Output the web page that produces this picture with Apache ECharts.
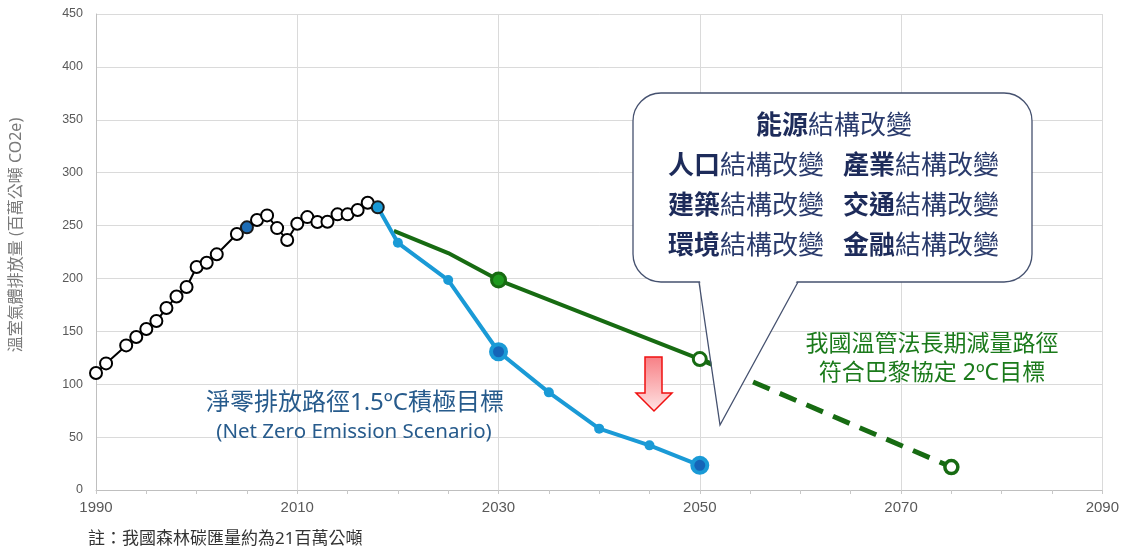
<!DOCTYPE html>
<html>
<head>
<meta charset="utf-8">
<script src="https://cdn.jsdelivr.net/npm/echarts@6/dist/echarts.min.js"></script>
<style>
  html, body { margin: 0; padding: 0; background: #fff; }
  #chart { width: 1122px; height: 551px; }
</style>
</head>
<body>
<div id="chart"></div>
<script>
// 歷史排放量 (百萬公噸 CO2e)
var histYears = [1990, 1991, 1993, 1994, 1995, 1996, 1997, 1998, 1999, 2000, 2001, 2002, 2004, 2005,
                 2006, 2007, 2008, 2009, 2010, 2011, 2012, 2013, 2014, 2015, 2016, 2017, 2018];
var histValues = [110.6, 119.7, 136.7, 144.6, 152.2, 159.7, 172, 183, 191.9, 210.8, 214.9, 222.8, 242, 248.3,
                  255.2, 259.6, 247.6, 236.3, 251.7, 258, 253.3, 253.6, 260.6, 260.6, 264.7, 271.6, 267.2];
// 淨零排放路徑
var netZeroYears = [2018, 2020, 2025, 2030, 2035, 2040, 2045, 2050];
var netZeroValues = [267.2, 233.7, 198.5, 130.7, 92.3, 58, 42.2, 23.3];
// 溫管法長期減量路徑
var lawYears = [2019.6, 2025, 2030, 2050];
var lawValues = [245, 224, 198.5, 123.8];
var lawDashYears = [2050, 2075];
var lawDashValues = [123.8, 21.7];

var yTicks = { min: 0, max: 450, interval: 50 };
var xTicks = { min: 1990, max: 2090, interval: 20 };

var cjk = '"Noto Sans", "Noto Sans CJK TC", sans-serif';
var blue = '#1a9ad6';
var green = '#176b12';

function pairs(xs, ys) {
    var out = [];
    for (var i = 0; i < xs.length; i++) {
        out.push([xs[i], ys[i]]);
    }
    return out;
}

var histData = pairs(histYears, histValues).map(function (p) {
    if (p[0] === 2005) {
        return { value: p, itemStyle: { color: '#1e6db5', borderColor: '#1a1a1a' } };
    }
    if (p[0] === 2018) {
        return { value: p, itemStyle: { color: blue, borderColor: '#1a1a1a' } };
    }
    return p;
});

var netZeroData = pairs(netZeroYears, netZeroValues).map(function (p) {
    if (p[0] === 2018) {
        return { value: p, symbol: 'none' };
    }
    if (p[0] === 2030 || p[0] === 2050) {
        return { value: p, symbolSize: 15, itemStyle: { color: '#1565b8', borderColor: blue, borderWidth: 4 } };
    }
    return p;
});

var lawData = pairs(lawYears, lawValues).map(function (p) {
    if (p[0] === 2030) {
        return { value: p, symbol: 'circle', symbolSize: 14,
                 itemStyle: { color: '#1f9a1f', borderColor: green, borderWidth: 3 } };
    }
    if (p[0] === 2050) {
        return { value: p, symbol: 'circle', symbolSize: 13,
                 itemStyle: { color: '#fff', borderColor: green, borderWidth: 3 } };
    }
    return { value: p, symbol: 'none' };
});

var lawDashData = pairs(lawDashYears, lawDashValues).map(function (p) {
    if (p[0] === 2075) {
        return { value: p, symbol: 'circle', symbolSize: 13,
                 itemStyle: { color: '#fff', borderColor: green, borderWidth: 3.5 } };
    }
    return { value: p, symbol: 'none' };
});

var myChart = echarts.init(document.getElementById('chart'));

// 對話框文字
var rich = {
    b: { fontFamily: cjk, fontSize: 26, fontWeight: 'bold', fill: '#1d2b5a' },
    n: { fontFamily: cjk, fontSize: 26, fontWeight: 'normal', fill: '#2a3b6c' }
};
function boxText(x, y, key, align) {
    return {
        type: 'text', x: x, y: y, z: 101,
        style: { text: '{b|' + key + '}{n|結構改變}', rich: rich, align: align || 'left', verticalAlign: 'middle' }
    };
}

var option = {
    animation: false,
    backgroundColor: '#fff',
    grid: { left: 96, right: 19, top: 14, bottom: 61 },
    xAxis: {
        type: 'value',
        min: xTicks.min, max: xTicks.max, interval: xTicks.interval,
        axisLine: { show: true, lineStyle: { color: '#bfbfbf', width: 1 } },
        axisTick: { show: true, length: 4, lineStyle: { color: '#c8c8c8' } },
        minorTick: { show: true, splitNumber: 4, length: 4, lineStyle: { color: '#c8c8c8' } },
        axisLabel: {
            color: '#595959', fontSize: 15, fontFamily: '"Liberation Sans", Arial, sans-serif', margin: 10,
            formatter: function (v) { return String(v); }
        },
        splitLine: { show: true, lineStyle: { color: '#dadada' } }
    },
    yAxis: {
        type: 'value',
        min: yTicks.min, max: yTicks.max, interval: yTicks.interval,
        axisLine: { show: true, lineStyle: { color: '#bfbfbf', width: 1 } },
        axisTick: { show: false },
        axisLabel: { color: '#595959', fontSize: 12.5, fontFamily: '"Liberation Sans", Arial, sans-serif', margin: 13 },
        splitLine: { show: true, lineStyle: { color: '#dadada' } }
    },
    series: [
        {
            name: '我國溫管法長期減量路徑',
            type: 'line',
            data: lawData,
            z: 3,
            lineStyle: { color: green, width: 4 },
            itemStyle: { color: green }
        },
        {
            name: '長期減量路徑(延伸)',
            type: 'line',
            data: lawDashData,
            z: 3,
            lineStyle: { color: green, width: 5, type: [18, 11] },
            itemStyle: { color: green }
        },
        {
            name: '淨零排放路徑',
            type: 'line',
            data: netZeroData,
            z: 4,
            symbol: 'circle',
            symbolSize: 10,
            lineStyle: { color: blue, width: 4 },
            itemStyle: { color: blue, borderWidth: 0 }
        },
        {
            name: '歷史排放量',
            type: 'line',
            data: histData,
            z: 5,
            symbol: 'circle',
            symbolSize: 12,
            lineStyle: { color: '#000', width: 2 },
            itemStyle: { color: '#fff', borderColor: '#000', borderWidth: 2 }
        }
    ],
    graphic: [
        {
            type: 'text', x: 16, y: 235, rotation: Math.PI / 2,
            style: { text: '溫室氣體排放量 (百萬公噸 CO2e)', fontFamily: cjk, fontSize: 16, fill: '#7a7a7a',
                     align: 'center', verticalAlign: 'middle' }
        },
        {
            type: 'rect', z: 100,
            shape: { x: 633, y: 93, width: 399, height: 189, r: 28 },
            style: { fill: '#fff', stroke: '#45516f', lineWidth: 1.3 }
        },
        {
            type: 'polygon', z: 100,
            shape: { points: [[700, 280.5], [720, 424], [797, 280.5]] },
            style: { fill: '#fff' }
        },
        {
            type: 'polyline', z: 100,
            shape: { points: [[699, 282], [720, 425], [798, 282]] },
            style: { fill: null, stroke: '#45516f', lineWidth: 1.3 }
        },
        boxText(834, 127, '能源', 'center'),
        boxText(668, 167, '人口'),
        boxText(843, 167, '產業'),
        boxText(668, 207, '建築'),
        boxText(843, 207, '交通'),
        boxText(668, 247, '環境'),
        boxText(843, 247, '金融'),
        {
            type: 'polygon', z: 100,
            shape: { points: [[645, 357], [662, 357], [662, 393], [672, 393], [654, 411], [636, 393], [645, 393]] },
            style: {
                fill: new echarts.graphic.LinearGradient(0, 0, 0, 1, [
                    { offset: 0, color: '#f77f85' },
                    { offset: 1, color: '#ffe4e4' }
                ]),
                stroke: '#f01010', lineWidth: 1.5
            }
        },
        {
            type: 'text', x: 355, y: 403, z: 100,
            style: { text: '淨零排放路徑1.5ºC積極目標', fontFamily: cjk, fontSize: 24, fill: '#275b8c',
                     align: 'center', verticalAlign: 'middle' }
        },
        {
            type: 'text', x: 354, y: 432, z: 100,
            style: { text: '(Net Zero Emission Scenario)', fontFamily: cjk, fontSize: 20.5, fill: '#275b8c',
                     align: 'center', verticalAlign: 'middle' }
        },
        {
            type: 'text', x: 932, y: 344, z: 100,
            style: { text: '我國溫管法長期減量路徑', fontFamily: cjk, fontSize: 23, fill: '#1b7a1b',
                     align: 'center', verticalAlign: 'middle' }
        },
        {
            type: 'text', x: 932, y: 373, z: 100,
            style: { text: '符合巴黎協定 2ºC目標', fontFamily: cjk, fontSize: 23, fill: '#1b7a1b',
                     align: 'center', verticalAlign: 'middle' }
        },
        {
            type: 'text', x: 88, y: 539,
            style: { text: '註：我國森林碳匯量約為21百萬公噸', fontFamily: cjk, fontSize: 17, fill: '#333',
                     align: 'left', verticalAlign: 'middle' }
        }
    ]
};

myChart.setOption(option);
</script>
</body>
</html>
